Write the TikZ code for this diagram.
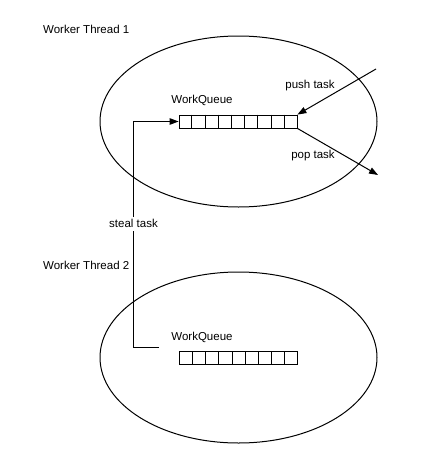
\documentclass[tikz,border=0pt]{standalone}
\usepackage{fontspec}
\setmainfont{Liberation Sans}
\usetikzlibrary{shapes.geometric, arrows.meta, positioning, calc}

\begin{document}
\begin{tikzpicture}[
    x=1pt, y=-1pt,
    thread/.style={ellipse, draw, line width=1pt, minimum width=277pt,
                   minimum height=171pt, inner sep=0pt},
    queue/.style={rectangle, draw, line width=0.8pt, minimum width=118pt,
                  minimum height=13pt, inner sep=0pt},
    lbl/.style={inner sep=0pt, font=\fontsize{11.5}{13}\selectfont},
    arr/.style={-{Triangle[length=9pt,width=6.5pt]}, line width=1pt},
    wire/.style={line width=1pt},
]
\useasboundingbox (0,0) rectangle (433,455);

% Worker thread 1
\node[lbl, anchor=west] (name1) at (43,29) {Worker Thread 1};
\node[thread] (t1) at (238.5,121.5) {};
\node[lbl] (wq1) at (202,100) {WorkQueue};
\node[queue] (q1) at (238,121.5) {};
\foreach \i in {1,...,8}
  \draw[line width=0.8pt] ($(q1.north west)!\i/9!(q1.north east)$) -- ($(q1.south west)!\i/9!(q1.south east)$);

% push / pop
\coordinate (pushin) at (376,69);
\coordinate (popout) at (378,175);
\node[lbl] (push) at (310,86) {push task};
\node[lbl] (pop) at (313,156) {pop task};
\draw[arr] (pushin) -- (q1.north east);
\draw[arr] (q1.south east) -- (popout);

% Worker thread 2
\node[lbl, anchor=west] (name2) at (43,265) {Worker Thread 2};
\node[thread] (t2) at (238.5,357.5) {};
\node[lbl] (wq2) at (202,337) {WorkQueue};
\node[queue] (q2) at (238.5,358) {};
\foreach \i in {1,...,8}
  \draw[line width=0.8pt] ($(q2.north west)!\i/9!(q2.north east)$) -- ($(q2.south west)!\i/9!(q2.south east)$);

% steal
\node[lbl] (steal) at (133.5,223) {steal task};
\coordinate (stealfrom) at ([xshift=-20pt, yshift=11pt]q2.west);
\draw[wire] (stealfrom) -| ([yshift=-4pt]steal.south);
\draw[arr] ([yshift=2pt]steal.north) |- (q1.west);

\end{tikzpicture}
\end{document}
